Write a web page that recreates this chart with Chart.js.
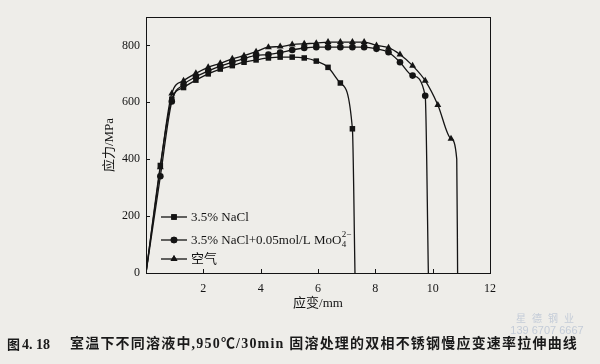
<!DOCTYPE html>
<html>
<head>
<meta charset="utf-8">
<script src="https://cdn.jsdelivr.net/npm/chart.js@4.4.1/dist/chart.umd.min.js"></script>
<style>
    html, body { margin: 0; padding: 0; background: #eeede9; }
    #wrap { width: 600px; height: 364px; position: relative; }
</style>
</head>
<body>
<div id="wrap"><canvas id="tensileChart" width="600" height="364"></canvas></div>
<script>
// strain (mm) where the markers sit, shared by the three curves
const strainMarks = [0.50, 0.90, 1.31, 1.74, 2.17, 2.59, 3.01, 3.42, 3.84, 4.27, 4.68, 5.10, 5.52,
    5.94, 6.35, 6.78, 7.20, 7.61, 8.04, 8.46, 8.86, 9.30, 9.74, 10.18, 10.64];

// stress (MPa) at those markers
const stressNaCl = [378, 611, 652, 678, 700, 717, 729, 741, 749, 756, 759, 759, 756, 745, 723, 668, 507];
const stressMo = [340, 603, 662, 690, 710, 727, 741, 754, 765, 768, 775, 784, 791, 794, 794, 794,
    794, 794, 788, 776, 741, 694, 623];
const stressAir = [372, 631, 676, 702, 723, 737, 753, 764, 778, 794, 796, 803, 806, 808, 812, 812,
    812, 812, 800, 792, 768, 729, 676, 591, 472];

// fracture part of each curve (no markers)
const naclTailX = [7.29];
const naclTailY = [0];
const moTailX = [9.85];
const moTailY = [0];
const airTailX = [10.84, 10.87];
const airTailY = [401, 0];

const legendNames = ['3.5% NaCl', '3.5% NaCl+0.05mol/L MoO', '空气'];
const xTickValues = [0, 2, 4, 6, 8, 10, 12];
const yTickValues = [0, 200, 400, 600, 800];

const serif = "'Liberation Serif', 'Times New Roman', 'Noto Sans CJK SC', serif";
const ink = '#141414';

function buildCurve(stress, tailX, tailY) {
    const pts = [{ x: 0, y: 0 }];
    stress.forEach((s, i) => pts.push({ x: strainMarks[i], y: s }));
    tailX.forEach((t, i) => pts.push({ x: t, y: tailY[i] }));
    return pts;
}

function markerRadius(count, r) {
    return function(ctx) {
        const i = ctx.dataIndex;
        return (i === 0 || i > count) ? 0 : r;
    };
}

function makeDataset(stress, tailX, tailY, style, r) {
    return {
        data: buildCurve(stress, tailX, tailY),
        borderColor: ink,
        backgroundColor: ink,
        borderWidth: 1.3,
        pointStyle: style,
        pointRadius: markerRadius(stress.length, r),
        pointBorderWidth: 0,
        pointBackgroundColor: ink,
        cubicInterpolationMode: 'monotone',
        fill: false
    };
}

function drawMarker(ctx, style, r, x, y) {
    if (Chart.helpers && Chart.helpers.drawPoint) {
        Chart.helpers.drawPoint(ctx, { pointStyle: style, radius: r, borderWidth: 0, rotation: 0 }, x, y);
        ctx.fill();
        return;
    }
    ctx.beginPath();
    if (style === 'rect') {
        const s = r * Math.SQRT1_2;
        ctx.rect(x - s, y - s, 2 * s, 2 * s);
    } else if (style === 'circle') {
        ctx.arc(x, y, r, 0, Math.PI * 2);
    } else {
        ctx.moveTo(x, y - r);
        ctx.lineTo(x + r * 0.866, y + r * 0.5);
        ctx.lineTo(x - r * 0.866, y + r * 0.5);
        ctx.closePath();
    }
    ctx.fill();
}

const framePlugin = {
    id: 'frame',
    afterDraw(chart) {
        const { ctx, chartArea: a, scales } = chart;
        ctx.save();
        ctx.strokeStyle = ink;
        ctx.lineWidth = 1;
        ctx.strokeRect(a.left + 0.5, a.top + 0.5, a.right - a.left, a.bottom - a.top);
        ctx.beginPath();
        xTickValues.forEach(v => {
            const px = Math.round(scales.x.getPixelForValue(v)) + 0.5;
            ctx.moveTo(px, a.bottom);
            ctx.lineTo(px, a.bottom - 4);
        });
        yTickValues.forEach(v => {
            const py = Math.round(scales.y.getPixelForValue(v)) + 0.5;
            ctx.moveTo(a.left, py);
            ctx.lineTo(a.left + 4, py);
        });
        ctx.stroke();
        ctx.restore();
    }
};

const legendPlugin = {
    id: 'innerLegend',
    afterDatasetsDraw(chart) {
        const ctx = chart.ctx;
        const rows = [217, 240, 259];
        const styles = ['rect', 'circle', 'triangle'];
        const radii = [3.9, 3.3, 4];
        ctx.save();
        ctx.strokeStyle = ink;
        ctx.fillStyle = ink;
        ctx.lineWidth = 1.3;
        rows.forEach((y, i) => {
            ctx.beginPath();
            ctx.moveTo(161, y);
            ctx.lineTo(187, y);
            ctx.stroke();
            drawMarker(ctx, styles[i], radii[i], 174, y);
            ctx.font = '13px ' + serif;
            ctx.textBaseline = 'middle';
            ctx.textAlign = 'left';
            ctx.fillText(legendNames[i], 191, y + 1);
            if (i === 1) {
                const w = ctx.measureText(legendNames[i]).width;
                ctx.font = '9px ' + serif;
                ctx.fillText('2\u2212', 191 + w + 0.5, y - 5);
                ctx.fillText('4', 191 + w + 0.5, y + 5);
            }
        });
        ctx.restore();
    }
};

const captionPlugin = {
    id: 'caption',
    afterDraw(chart) {
        const ctx = chart.ctx;
        ctx.save();
        ctx.fillStyle = '#1a1a1a';
        ctx.textBaseline = 'middle';
        ctx.textAlign = 'left';
        ctx.font = "bold 13px 'Noto Sans CJK SC'";
        ctx.fillText('图', 7, 344);
        ctx.font = 'bold 14px ' + serif;
        ctx.fillText('4. 18', 22, 345);
        const body = '室温下不同溶液中,950℃/30min 固溶处理的双相不锈钢慢应变速率拉伸曲线';
        ctx.font = 'bold 14px ' + serif;
        const w = ctx.measureText(body).width;
        const extra = (507 - w) / (body.length - 1);
        if ('letterSpacing' in ctx) {
            ctx.letterSpacing = extra.toFixed(2) + 'px';
        }
        ctx.fillText(body, 70, 344);
        ctx.letterSpacing = '0px';
        // scan watermark
        ctx.fillStyle = '#c4ccd8';
        ctx.font = "10px 'Noto Sans CJK SC'";
        ctx.textAlign = 'center';
        ctx.letterSpacing = '6px';
        ctx.fillText('星德钢业', 548, 318);
        ctx.letterSpacing = '0px';
        ctx.font = "11px 'Liberation Sans', sans-serif";
        ctx.fillText('139 6707 6667', 547, 331);
        ctx.restore();
    }
};

new Chart(document.getElementById('tensileChart').getContext('2d'), {
    type: 'line',
    data: {
        datasets: [
            makeDataset(stressNaCl, naclTailX, naclTailY, 'rect', 3.9),
            makeDataset(stressMo, moTailX, moTailY, 'circle', 3.3),
            makeDataset(stressAir, airTailX, airTailY, 'triangle', 4)
        ]
    },
    options: {
        responsive: false,
        animation: false,
        layout: { padding: { left: 98, top: 17, right: 110, bottom: 52 } },
        plugins: {
            legend: { display: false },
            tooltip: { enabled: false }
        },
        scales: {
            x: {
                type: 'linear',
                min: 0,
                max: 12,
                grid: { display: false, drawTicks: false },
                border: { display: false },
                afterFit: function(scale) { scale.height = 39; },
                ticks: {
                    stepSize: 2,
                    padding: 9,
                    color: ink,
                    font: { family: serif, size: 12 },
                    callback: v => v === 0 ? '' : v
                },
                title: {
                    display: true,
                    text: '应变/mm',
                    color: ink,
                    padding: { top: 0, bottom: 1 },
                    font: { family: serif, size: 13 }
                }
            },
            y: {
                min: 0,
                max: 900,
                grid: { display: false, drawTicks: false },
                border: { display: false },
                afterFit: function(scale) { scale.width = 48; },
                ticks: {
                    stepSize: 200,
                    includeBounds: false,
                    padding: 6,
                    color: ink,
                    font: { family: serif, size: 12 }
                },
                title: {
                    display: true,
                    text: '应力/MPa',
                    color: ink,
                    padding: { top: 4, bottom: 0 },
                    font: { family: serif, size: 13 }
                }
            }
        }
    },
    plugins: [framePlugin, legendPlugin, captionPlugin]
});
</script>
</body>
</html>
